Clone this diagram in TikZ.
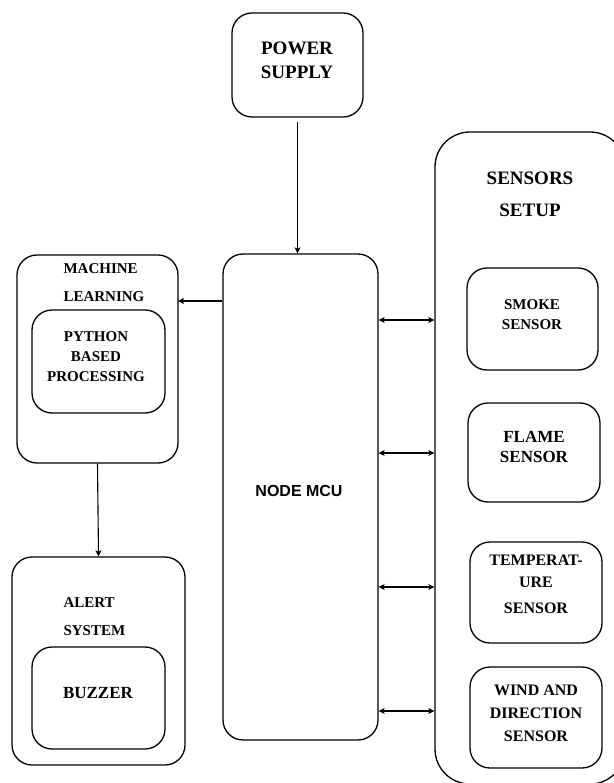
\documentclass[tikz,border=0pt]{standalone}
\usepackage{fontspec}
\setmainfont{Liberation Serif}
\setsansfont{Liberation Sans}
\usetikzlibrary{positioning, arrows.meta}

\tikzset{
  >={Stealth[length=6pt, width=6pt, inset=1.5pt]},
  box/.style={draw, line width=1.3pt, rounded corners=20pt},
  bigtxt/.style={font=\fontsize{19}{24}\selectfont\bfseries, align=center},
  smalltxt/.style={font=\fontsize{15}{20}\selectfont\bfseries, align=center},
  link/.style={line width=1.1pt}
}

\begin{document}
\begin{tikzpicture}[x=1pt, y=-1pt]
        \useasboundingbox (0,0) rectangle (613,783);

        % Boxes
        \node (power) [box, minimum width=131pt, minimum height=104pt] at (297.5, 65) {};
        \node (mcu) [box, minimum width=155pt, minimum height=486pt] at (300.5, 497) {};
        \node (sensors) [box, rounded corners=35pt, minimum width=190pt, minimum height=652pt] at (530, 458) {};
        \node (smoke) [box, minimum width=131pt, minimum height=102pt] at (532.5, 319) {};
        \node (flame) [box, minimum width=132pt, minimum height=99pt] at (534, 452.5) {};
        \node (temp) [box, minimum width=132pt, minimum height=101pt] at (536, 592.5) {};
        \node (wind) [box, minimum width=132pt, minimum height=101pt] at (536, 717.5) {};
        \node (ml) [box, minimum width=161pt, minimum height=208pt] at (97.5, 359) {};
        \node (python) [box, minimum width=133pt, minimum height=103pt] at (98.5, 361.5) {};
        \node (alert) [box, minimum width=173pt, minimum height=208pt] at (98.5, 661) {};
        \node (buzzer) [box, minimum width=133pt, minimum height=102pt] at (98.5, 698) {};

        % Texts
        \node (powertxt) [bigtxt] at (297, 60) {POWER\\SUPPLY};
        \node (mcutxt) [font=\fontsize{16}{20}\selectfont\sffamily\bfseries] at (299, 491) {NODE MCU};
        \node (sensorstxt) [bigtxt, font=\fontsize{19}{32}\selectfont\bfseries] at (530, 194) {SENSORS\\SETUP};
        \node (smoketxt) [smalltxt] at (532, 315) {SMOKE\\SENSOR};
        \node (flametxt) [smalltxt, font=\fontsize{17}{20}\selectfont\bfseries] at (534, 447) {FLAME\\SENSOR};
        \node (temptxt) [smalltxt, font=\fontsize{16}{22}\selectfont\bfseries] at (536, 584) {TEMPERAT-\\URE\\[4pt]SENSOR};
        \node (windtxt) [smalltxt, font=\fontsize{16}{23}\selectfont\bfseries] at (536, 713) {WIND AND\\DIRECTION\\SENSOR};
        \node (mltxt) [smalltxt, align=left, anchor=west, font=\fontsize{15}{28}\selectfont\bfseries] at (60, 283) {MACHINE\\LEARNING};
        \node (pythontxt) [smalltxt] at (96, 357) {PYTHON\\BASED\\PROCESSING};
        \node (alerttxt) [smalltxt, align=left, anchor=west, font=\fontsize{15}{28}\selectfont\bfseries] at (60, 617) {ALERT\\SYSTEM};
        \node (buzzertxt) [smalltxt, font=\fontsize{17}{20}\selectfont\bfseries] at (98, 693) {BUZZER};

        \coordinate (mlin) at (178, 301);

        % Edges
        \draw[link, ->] ([yshift=-4pt]power.south) -- (power.south |- mcu.north);
        \draw[link, ->] (mcu.west |- mlin) -- (mlin);
        \draw[link, ->] (ml.south) -- (alert.north);
        \foreach \y in {320, 453, 587, 711}
            \draw[link, <->] (mcu.east |- 0,\y) -- (sensors.west |- 0,\y);

\end{tikzpicture}
\end{document}
